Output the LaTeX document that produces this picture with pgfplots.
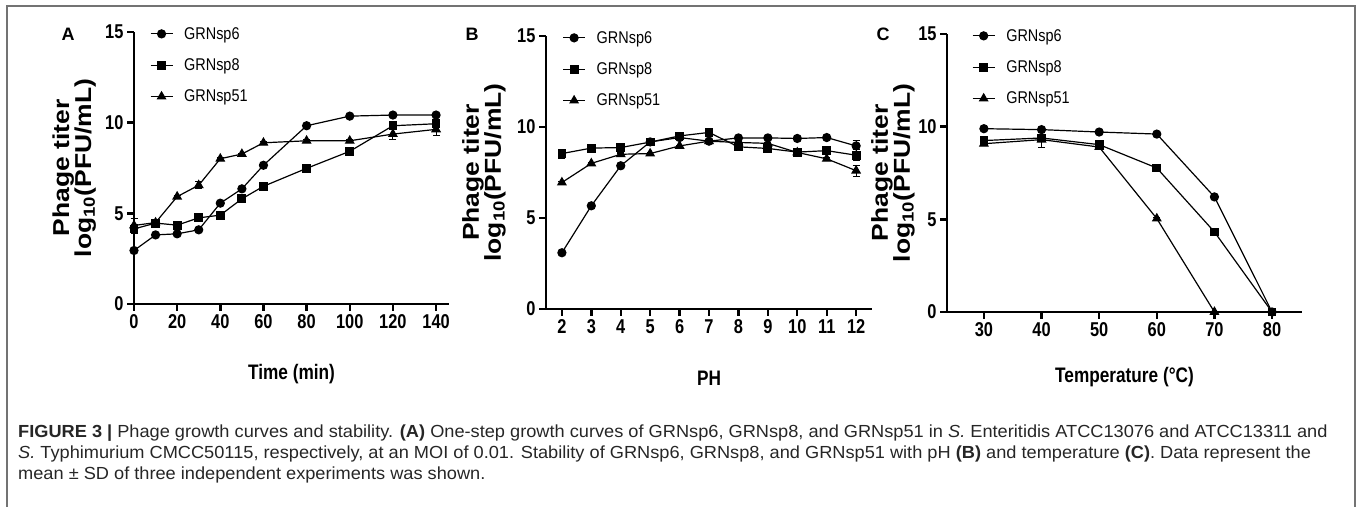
\documentclass[border=0pt]{standalone}
\usepackage{fontspec}
\setmainfont{Liberation Sans}
\newfontfamily\nar{Liberation Sans}[FakeStretch=0.82]
\newfontfamily\legfam{Liberation Sans}[FakeStretch=0.85]
\newfontfamily\wid{Liberation Sans}[FakeStretch=1.15]
\newfontfamily\capfam{Liberation Sans}[FakeStretch=1.04]
\usepackage{pgfplots}
\pgfplotsset{compat=1.18}
\newcommand\tickf{\nar\bfseries\fontsize{20bp}{20bp}\selectfont}
\newcommand\legf{\legfam\fontsize{17bp}{17bp}\selectfont}
\newcommand\labf{\nar\bfseries\fontsize{21bp}{21bp}\selectfont}
\newcommand\ylabf{\wid\bfseries\fontsize{23bp}{22bp}\selectfont}
\pgfplotsset{
  mystyle/.style={
    scale only axis, clip=false,
    axis x line=bottom, axis y line=left,
    axis line style={-, line width=2.4bp, black},
    x axis line style={-}, y axis line style={-},
    tick style={line width=2.4bp, black},
    major tick length=7bp, tick align=outside,
    ymin=0, ymax=15, ytick={0,5,10,15},
    tick label style={font=\tickf},
    /pgf/number format/assume math mode=true,
    legend style={draw=none, fill=none, font=\legf, row sep=14bp, inner sep=0pt,
      nodes={inner sep=2bp}},
    legend cell align=left,
    legend image code/.code={\draw[mark repeat=2,mark phase=2,##1] plot coordinates {(0bp,0bp) (11bp,0bp) (22bp,0bp)};},
    xlabel style={font=\labf, anchor=center},
    ylabel style={font=\ylabf, align=center, anchor=center},
  },
  s6/.style={black, line width=1.2bp, mark=*, mark size=4bp, mark options={solid},
    error bars/y dir=both, error bars/y explicit,
    error bars/error bar style={line width=1bp},
    error bars/error mark options={rotate=90, mark size=3.5bp, line width=1bp}},
  s8/.style={s6, mark=square*, mark size=3.8bp},
  s51/.style={s6, mark=triangle*, mark size=4.6bp},
}
\newcommand\legs{\legend{\hspace*{9bp}GRNsp6,\hspace*{9bp}GRNsp8,\hspace*{9bp}GRNsp51}}
\begin{document}
\begin{tikzpicture}[x=1bp,y=1bp]
\path[use as bounding box] (0,0) rectangle (1357,507);
\draw[black!55, line width=1.4bp] (7,0) -- (7,501) -- (1355,501) -- (1355,0);

% Panel A
\begin{axis}[mystyle, at={(134bp,203bp)}, anchor=south west, width=315bp, height=272bp,
  xmin=0, xmax=146, xtick={0,20,...,140},
  xlabel={Time (min)}, xlabel style={at={(axis description cs:0.5,0)}, yshift=-70bp},
  ylabel={Phage titer\\log\textsubscript{10}(PFU/mL)}, ylabel style={at={(axis description cs:-0.19,0.5)}},
  legend style={at={(axis description cs:0.05,1)}, anchor=north west, yshift=7bp}]
\addplot[s6] table[x=x,y=y,y error=e] {
x y e
0 2.95 0.05
10 3.81 0.05
20 3.87 0.05
30 4.09 0.05
40 5.56 0.05
50 6.35 0.05
60 7.65 0.05
80 9.83 0.05
100 10.36 0.05
120 10.42 0.05
140 10.42 0.05
};
\addplot[s8] table[x=x,y=y,y error=e] {
x y e
0 4.14 0.25
10 4.46 0.15
20 4.35 0.1
30 4.75 0.05
40 4.90 0.05
50 5.80 0.05
60 6.49 0.05
80 7.48 0.05
100 8.42 0.15
120 9.83 0.1
140 9.94 0.2
};
\addplot[s51] table[x=x,y=y,y error=e] {
x y e
0 4.33 0.4
10 4.49 0.1
20 5.92 0.05
30 6.55 0.2
40 8.01 0.05
50 8.27 0.05
60 8.89 0.05
80 9.00 0.05
100 9.00 0.05
120 9.37 0.3
140 9.63 0.35
};
\legs
\end{axis}

% Panel B
\begin{axis}[mystyle, at={(546bp,198bp)}, anchor=south west, width=326bp, height=273bp,
  xmin=1.46, xmax=12.54, xtick={2,...,12},
  xlabel={PH}, xlabel style={at={(axis description cs:0.5,0)}, yshift=-69bp},
  ylabel={Phage titer\\log\textsubscript{10}(PFU/mL)}, ylabel style={at={(axis description cs:-0.19,0.5)}},
  legend style={at={(axis description cs:0.05,1)}, anchor=north west, yshift=7bp}]
\addplot[s6] table[x=x,y=y,y error=e] {
x y e
2 3.09 0.05
3 5.67 0.05
4 7.87 0.1
5 9.18 0.05
6 9.42 0.05
7 9.22 0.05
8 9.40 0.05
9 9.40 0.05
10 9.37 0.05
11 9.42 0.05
12 8.96 0.3
};
\addplot[s8] table[x=x,y=y,y error=e] {
x y e
2 8.54 0.25
3 8.84 0.1
4 8.87 0.25
5 9.17 0.05
6 9.51 0.1
7 9.70 0.05
8 8.91 0.05
9 8.82 0.05
10 8.62 0.1
11 8.70 0.05
12 8.45 0.3
};
\addplot[s51] table[x=x,y=y,y error=e] {
x y e
2 6.95 0.05
3 8.00 0.05
4 8.50 0.05
5 8.54 0.05
6 8.96 0.05
7 9.22 0.05
8 9.15 0.05
9 9.10 0.05
10 8.60 0.05
11 8.25 0.05
12 7.60 0.3
};
\legs
\end{axis}

% Panel C
\begin{axis}[mystyle, at={(947bp,195bp)}, anchor=south west, width=355bp, height=278bp,
  xmin=23.6, xmax=85.2, xtick={30,40,...,80},
  xlabel={Temperature (\textdegree C)}, xlabel style={at={(axis description cs:0.5,0)}, yshift=-65bp},
  ylabel={Phage titer\\log\textsubscript{10}(PFU/mL)}, ylabel style={at={(axis description cs:-0.152,0.5)}},
  legend style={at={(axis description cs:0.07,1)}, anchor=north west, yshift=7bp}]
\addplot[s6] table[x=x,y=y,y error=e] {
x y e
30 9.89 0.05
40 9.84 0.05
50 9.71 0.05
60 9.60 0.05
70 6.21 0.05
80 0 0
};
\addplot[s8] table[x=x,y=y,y error=e] {
x y e
30 9.25 0.05
40 9.39 0.1
50 9.03 0.05
60 7.77 0.05
70 4.32 0.2
80 0 0
};
\addplot[s51] table[x=x,y=y,y error=e] {
x y e
30 9.08 0.05
40 9.30 0.45
50 8.90 0.05
60 5.04 0.05
70 0 0
};
\legs
\end{axis}

% panel letters
\node[font=\bfseries\fontsize{18bp}{18bp}\selectfont] at (68,473) {A};
\node[font=\bfseries\fontsize{18bp}{18bp}\selectfont] at (472,473) {B};
\node[font=\bfseries\fontsize{18bp}{18bp}\selectfont] at (883,473) {C};

% caption
\begin{scope}[every node/.style={anchor=base west, inner sep=0pt, text=black!85, font=\capfam\fontsize{17.5bp}{17.5bp}\selectfont}]
\node at (18,69) {\textbf{FIGURE 3 |} Phage growth curves and stability. \textbf{(A)} One-step growth curves of GRNsp6, GRNsp8, and GRNsp51 in \textit{S.} Enteritidis ATCC13076 and ATCC13311 and};
\node at (18,48) {\textit{S.} Typhimurium CMCC50115, respectively, at an MOI of 0.01. Stability of GRNsp6, GRNsp8, and GRNsp51 with pH \textbf{(B)} and temperature \textbf{(C)}. Data represent the};
\node at (18,27) {mean ± SD of three independent experiments was shown.};
\end{scope}
\end{tikzpicture}
\end{document}
